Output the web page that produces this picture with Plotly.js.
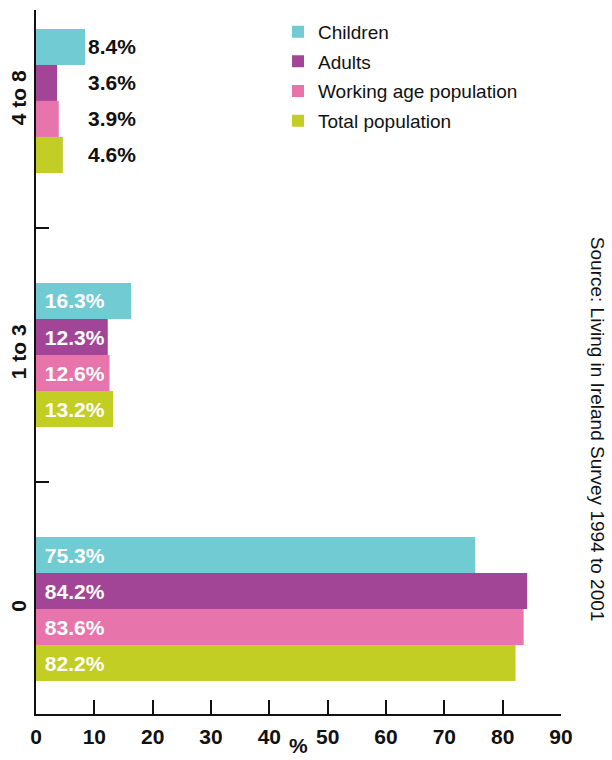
<!DOCTYPE html>
<html>
<head>
<meta charset="utf-8">
<script src="https://cdn.plot.ly/plotly-3.0.1.min.js"></script>
<style>html,body{margin:0;padding:0;background:#fff;}#chart{width:612px;height:760px;}</style>
</head>
<body>
<div id="chart"></div>
<script>
const categories = ["4 to 8", "1 to 3", "0"];
const seriesNames = ["Children", "Adults", "Working age population", "Total population"];
const children = [8.4, 16.3, 75.3];
const adults = [3.6, 12.3, 84.2];
const working = [3.9, 12.6, 83.6];
const total = [4.6, 13.2, 82.2];
const xTicks = [0, 10, 20, 30, 40, 50, 60, 70, 80, 90];
const sourceText = "Source: Living in Ireland Survey 1994 to 2001";

const seriesValues = [children, adults, working, total];
const colors = ["#71CBD3", "#A34597", "#E775AC", "#C2CE23"];
const FONT = "Liberation Sans, Arial, Helvetica, sans-serif";

// first category labelled outside the bars, others inside
const outsideCat = 0;
const traces = seriesValues.map((vals, i) => ({
  type: "bar",
  orientation: "h",
  name: seriesNames[i],
  legendgroup: "g" + i,
  y: categories,
  x: vals,
  marker: { color: colors[i], line: { width: 0 } },
  text: vals.map(v => "\u00a0" + v.toFixed(1) + "%"),
  textposition: vals.map((v, j) => j === outsideCat ? "none" : "inside"),
  insidetextanchor: "start",
  constraintext: "none",
  textfont: { family: FONT, size: 21, color: "#ffffff", weight: "bold" },
  hoverinfo: "none",
  cliponaxis: false
}));

const groupMax = Math.max(...seriesValues.map(v => v[outsideCat]));
const barPx = 36;
const annotations = seriesValues.map((vals, i) => ({
  x: groupMax, y: categories[outsideCat],
  xref: "x", yref: "y",
  text: "<b>" + vals[outsideCat].toFixed(1) + "%</b>",
  showarrow: false,
  xanchor: "left", yanchor: "middle",
  xshift: 1, yshift: -(i - 1.5) * barPx,
  font: { family: FONT, size: 21, color: "#111111" }
}));
annotations.push({
  x: 1.0686, y: 0.405, xref: "paper", yref: "paper",
  text: sourceText, showarrow: false, textangle: 90,
  xanchor: "center", yanchor: "middle",
  font: { family: FONT, size: 19, color: "#111111" }
});
annotations.push({
  x: 0.5, y: -0.045, xref: "paper", yref: "paper",
  text: "<b>%</b>", showarrow: false,
  xanchor: "center", yanchor: "middle",
  font: { family: FONT, size: 21, color: "#111111" }
});

const layout = {
  width: 612, height: 760,
  margin: { l: 36, r: 51, t: 10, b: 46, pad: 0 },
  paper_bgcolor: "#ffffff", plot_bgcolor: "#ffffff",
  barmode: "group", bargap: 0.433, bargroupgap: 0,
  showlegend: true,
  legend: {
    x: 0.461, y: 0.996, xanchor: "left", yanchor: "top",
    font: { family: FONT, size: 19, color: "#111111" },
    bgcolor: "rgba(0,0,0,0)", traceorder: "grouped", tracegroupgap: 2
  },
  xaxis: {
    range: [0, 90], tickvals: xTicks, ticktext: xTicks.map(String),
    ticks: "inside", ticklen: 14, tickwidth: 2, tickcolor: "#111111",
    showline: true, linewidth: 2, linecolor: "#111111",
    showgrid: false, zeroline: false, ticklabelstandoff: 3,
    tickfont: { family: FONT, size: 21, color: "#111111", weight: "bold" },
    fixedrange: true
  },
  yaxis: {
    type: "category", categoryorder: "array", categoryarray: categories,
    range: [2.413, -0.358],
    tickson: "boundaries",
    ticks: "inside", ticklen: 13, tickwidth: 2, tickcolor: "#111111",
    showline: true, linewidth: 2, linecolor: "#111111",
    showgrid: false, zeroline: false,
    tickangle: -90,
    tickfont: { family: FONT, size: 21, color: "#111111", weight: "bold" },
    fixedrange: true
  },
  annotations: annotations
};

Plotly.newPlot("chart", traces, layout, { displayModeBar: false, staticPlot: true });
</script>
</body>
</html>
